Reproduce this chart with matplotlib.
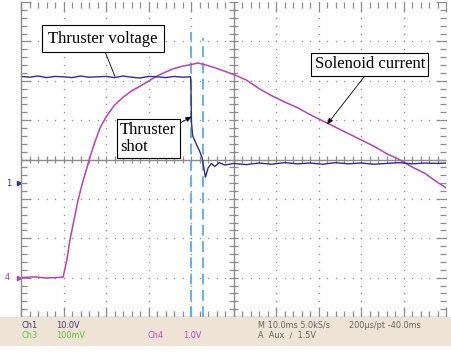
import numpy as np
import matplotlib
matplotlib.use("Agg")
import matplotlib.pyplot as plt

# screen divisions: x 0..10, y -4..4
volt_x = [0.0, 0.2, 0.4, 0.6, 0.8, 1.0, 1.2, 1.4, 1.6, 1.8, 2.0, 2.2, 2.4, 2.6,
          2.8, 3.0, 3.2, 3.4, 3.6, 3.8, 3.99,
          4.0, 4.01, 4.04, 4.12, 4.2, 4.26, 4.3, 4.34, 4.4, 4.48, 4.56, 4.66,
          4.8, 5.0, 5.3, 5.6, 5.9, 6.2, 6.5, 6.8, 7.1, 7.4, 7.7, 8.0, 8.3,
          8.6, 8.9, 9.2, 9.5, 9.8, 10.0]
volt_y = [2.11, 2.09, 2.12, 2.08, 2.11, 2.10, 2.08, 2.12, 2.09, 2.10, 2.11, 2.08,
          2.12, 2.09, 2.07, 2.11, 2.10, 2.08, 2.11, 2.09, 2.10,
          1.80, 0.95, 0.60, 0.40, 0.22, 0.05, -0.20, -0.45, -0.22, -0.10, -0.18,
          -0.08, -0.14, -0.10, -0.13, -0.09, -0.12, -0.08, -0.11, -0.09, -0.12,
          -0.08, -0.11, -0.09, -0.12, -0.10, -0.08, -0.11, -0.09, -0.10, -0.09]

coil_x = [0.0, 0.3, 0.6, 0.99, 1.08, 1.15, 1.25, 1.34, 1.42, 1.51, 1.62, 1.74,
          1.86, 2.0, 2.2, 2.4, 2.6, 2.8, 3.0, 3.2, 3.4, 3.6, 3.8, 4.0, 4.16,
          4.35, 4.56, 4.8, 5.0, 5.3, 5.6, 5.9, 6.2, 6.5, 6.8, 7.1, 7.4, 7.7,
          8.0, 8.3, 8.6, 8.9, 9.2, 9.5, 9.8, 10.0]
coil_y = [-3.0, -2.98, -3.01, -2.99, -2.55, -2.05, -1.52, -1.05, -0.70, -0.36,
          0.05, 0.45, 0.80, 1.08, 1.38, 1.58, 1.74, 1.86, 1.99, 2.12, 2.22,
          2.31, 2.37, 2.41, 2.45, 2.40, 2.33, 2.24, 2.16, 2.02, 1.80, 1.62,
          1.46, 1.32, 1.14, 0.98, 0.82, 0.66, 0.50, 0.34, 0.15, 0.00, -0.19,
          -0.35, -0.58, -0.72]

cursor_x = [4.0, 4.28]
cursor_top = [0.905, 0.886]

navy = "#2e2e8c"
magenta = "#b443b4"
grid_c = "#8c8c8c"

fig = plt.figure(figsize=(4.51, 3.54), dpi=100)
ax = fig.add_axes([21 / 451, 37 / 354, 425 / 451, 315 / 354])
ax.set_xlim(0, 10)
ax.set_ylim(-4, 4)

# graticule dots
mx = np.arange(0, 10.01, 0.2)
my = np.arange(-4, 4.01, 0.2)
for gy in range(-3, 4):
    if gy != 0:
        ax.plot(mx, np.full_like(mx, gy), ls="none", marker="s", ms=0.9, color=grid_c, mew=0)
for gx in range(1, 10):
    if gx != 5:
        ax.plot(np.full_like(my, gx), my, ls="none", marker="s", ms=0.9, color=grid_c, mew=0)

# centre cross with ticks
ax.axhline(0, color=grid_c, lw=1.0)
ax.axvline(5, color=grid_c, lw=1.0)
ax.vlines(mx, -0.09, 0.09, color=grid_c, lw=0.9)
ax.hlines(my, 4.9, 5.1, color=grid_c, lw=0.9)

for s in ["top", "right"]:
    ax.spines[s].set_visible(False)
for s in ["left", "bottom"]:
    ax.spines[s].set_color(grid_c)
    ax.spines[s].set_linewidth(1.0)
ax.set_xticks(np.arange(0, 11, 1))
ax.set_yticks(np.arange(-4, 5, 1))
ax.set_xticks(mx, minor=True)
ax.set_yticks(my, minor=True)
ax.tick_params(which="both", direction="in", top=True, right=True, color=grid_c,
               labelbottom=False, labelleft=False, width=0.9)
ax.tick_params(which="major", length=7)
ax.tick_params(which="minor", length=4)

# cursors
for cx, top in zip(cursor_x, cursor_top):
    ax.axvline(cx, color="#5aaaf0", lw=1.3, ls=(0, (6, 3)), ymax=top)

ax.plot(coil_x, coil_y, color=magenta, lw=1.1)
ax.plot(volt_x, volt_y, color=navy, lw=1.0)

# channel markers
ax.plot([-0.04], [-0.6], marker=">", ms=3, color=navy, clip_on=False)
ax.text(-0.28, -0.6, "1", color=navy, fontsize=6, ha="center", va="center", clip_on=False)
ax.plot([-0.04], [-3.0], marker=">", ms=3, color=magenta, clip_on=False)
ax.text(-0.32, -3.0, "4", color=magenta, fontsize=6, ha="center", va="center", clip_on=False)

serif = "Liberation Serif"
head = "-|>,head_length=0.3,head_width=0.12"
ax.annotate("Thruster voltage", xy=(2.21, 2.11), xytext=(1.93, 3.07),
            fontsize=12, family=serif, ha="center", va="center",
            bbox=dict(boxstyle="square,pad=0.35", fc="white", ec="black", lw=0.8),
            arrowprops=dict(arrowstyle="-", color="black", lw=0.6, shrinkA=0, shrinkB=0,
                            relpos=(0.5, 0)))
ax.annotate("Thruster\nshot", xy=(4.02, 1.09), xytext=(2.33, 0.53),
            fontsize=12, family=serif, ha="left", va="center", linespacing=1.05,
            bbox=dict(boxstyle="square,pad=0.2", fc="white", ec="black", lw=0.8),
            arrowprops=dict(arrowstyle=head, color="black", lw=0.6, shrinkA=0, shrinkB=0,
                            relpos=(1, 0.92)))
ax.annotate("Solenoid current", xy=(7.2, 0.89), xytext=(8.21, 2.42),
            fontsize=12, family=serif, ha="center", va="center",
            bbox=dict(boxstyle="square,pad=0.2", fc="white", ec="black", lw=0.8),
            arrowprops=dict(arrowstyle=head, color="black", lw=0.6, shrinkA=0, shrinkB=0,
                            relpos=(0.48, 0)))

# status bar
bar = fig.add_axes([0, 8 / 354, 1, 29 / 354])
bar.set_facecolor("#eee3d4")
bar.set_xticks([])
bar.set_yticks([])
for s in bar.spines.values():
    s.set_visible(False)
bar.set_xlim(0, 451)
bar.set_ylim(29, 0)
small = dict(fontsize=5.9, va="center", ha="left")
bar.text(21, 8, "Ch1", color="#3c3c78", **small)
bar.text(56, 8, "10.0V", color="#3c3c78", **small)
bar.text(21, 18, "Ch3", color="#55cc33", **small)
bar.text(56, 18, "100mV", color="#55cc33", **small)
bar.text(148, 18, "Ch4", color="#cc44cc", **small)
bar.text(183, 18, "1.0V", color="#cc44cc", **small)
bar.text(258, 8, "M 10.0ms 5.0kS/s", color="#666666", **small)
bar.text(349, 8, "200\u00b5s/pt -40.0ms", color="#666666", **small)
bar.text(258, 18, "A  Aux  \u2215  1.5V", color="#666666", **small)

fig.savefig("out.png", dpi=100)
